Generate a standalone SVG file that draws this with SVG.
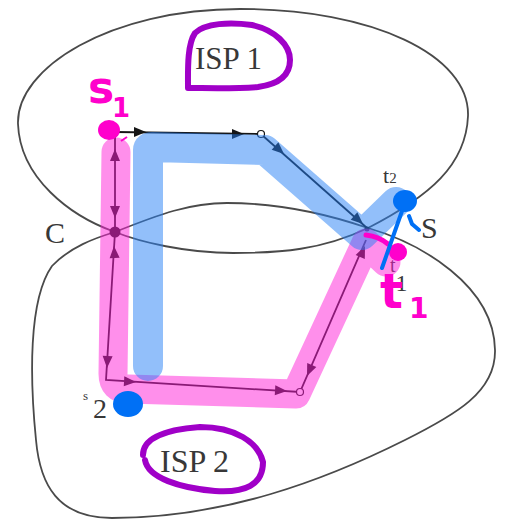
<svg xmlns="http://www.w3.org/2000/svg" width="506" height="522" viewBox="0 0 506 522">
<style>
.isp{fill:none;stroke:#4a4a4a;stroke-width:1.8}
.link{fill:none;stroke:#151515;stroke-width:1.8}
.lbl{font-family:"Liberation Serif","Times New Roman",serif;fill:#383838}
.hand{font-family:"DejaVu Sans",sans-serif;font-weight:bold;fill:#ff00cc}
.hlp{fill:none;stroke:#ff20d8;stroke-opacity:0.5;stroke-linecap:round;stroke-linejoin:round}
.hlb{fill:none;stroke:#2680f5;stroke-opacity:0.5;stroke-linecap:round;stroke-linejoin:round}
.loop{fill:none;stroke:#a000c8;stroke-width:6;stroke-linecap:round;stroke-linejoin:round}
.hollow{fill:#fff;stroke:#151515;stroke-width:1.2}
</style>
<defs>
<path id="ah" d="M0,0 L-12,-5 L-12,5 Z" fill="#151515"/>
</defs>
<rect width="506" height="522" fill="#fff"/>

<g id="isp1">
<path class="isp" d="M115,232 C70,216 20,178 18,124 C16,68 110,9 240,9 C372,9 470,55 468,116 C466,165 430,196 368,228 C322,250 280,253 233,253 C186,253 140,242 115,232 Z"/>
<text class="lbl" x="195" y="69" font-size="31">ISP 1</text>
</g>

<g id="isp2">
<path class="isp" d="M115,232 C160,214 190,203 227,203 C280,203 330,215 368,228 C420,243 494,285 495,350 C496,392 455,415 405,440 C325,480 225,518 112,518 C58,518 40,485 36,440 C30,380 28,300 52,266 C70,247 95,238 115,232 Z"/>
<text class="lbl" x="160" y="472" font-size="32">ISP 2</text>
</g>

<g id="connectors">
<path class="link" d="M115,132 L260,134"/>
<path class="link" d="M262,135 L367,228"/>
<path class="link" d="M115,137 L115,232 L106,380 L300,392 L366,240"/>
<use href="#ah" transform="translate(146,132)"/>
<use href="#ah" transform="translate(244,134)"/>
<use href="#ah" transform="translate(284,154) rotate(41.5)"/>
<use href="#ah" transform="translate(363,224) rotate(41.5)"/>
<use href="#ah" transform="translate(115,149) rotate(-90)"/>
<use href="#ah" transform="translate(115,218) rotate(90)"/>
<use href="#ah" transform="translate(114,246) rotate(-93)"/>
<use href="#ah" transform="translate(107,368) rotate(93)"/>
<use href="#ah" transform="translate(136,382) rotate(3.5)"/>
<use href="#ah" transform="translate(287,391) rotate(3.5)"/>
<use href="#ah" transform="translate(307,376) rotate(113.5)"/>
<use href="#ah" transform="translate(365,246) rotate(-66.5)"/>
</g>

<g id="node-c">
<circle cx="115" cy="232" r="5.5" fill="#151515"/>
<text class="lbl" x="45" y="243" font-size="30">C</text>
</g>
<g id="node-s">
<circle cx="367" cy="229" r="2.5" fill="#151515"/>
<text class="lbl" x="421" y="238" font-size="30">S</text>
</g>
<g id="node-a"><circle class="hollow" cx="261" cy="134" r="3.5"/></g>
<g id="node-b"><circle class="hollow" cx="300" cy="392" r="3.5"/></g>
<g id="node-t2">
<text class="lbl" x="383" y="183" font-size="22">t<tspan font-size="15">2</tspan></text>
</g>
<g id="node-t1">
<text class="lbl" x="390" y="272" font-size="20">t<tspan font-size="24" dy="19">1</tspan></text>
</g>
<g id="node-s2">
<text class="lbl"><tspan x="83" y="400" font-size="13">s</tspan><tspan x="93" y="418" font-size="28">2</tspan></text>
</g>

<g id="highlights">
<path class="hlp" stroke-width="29" d="M116,152 L113,374 Q113,389 128,389 L296,394 L366,243 M366,243 L386,262"/>
<path class="hlb" stroke-width="30" d="M148,366 L148,150 Q148,147 152,147 L265,150 L362,235 L396,202"/>
</g>

<g id="annotations">
<path class="loop" d="M188,88 C188,70 187,45 195,33 C205,23 230,22 252,25 C275,30 290,45 290,60 C290,75 280,84 258,87 C235,89 205,88 188,88"/>
<path class="loop" d="M143,455 C143,440 160,430 200,427 C235,427 258,442 263,462 C263,485 245,493 215,491 C180,488 148,478 145,460"/>
<ellipse cx="109" cy="130" rx="11" ry="10" fill="#ff00cc"/>
<path d="M121,141 L127,137" stroke="#ff00cc" stroke-width="2" fill="none"/>
<text class="hand"><tspan x="88" y="103" font-size="44">s</tspan><tspan x="112" y="117" font-size="26">1</tspan></text>
<path d="M366,235 C375,236 382,239 388,244" stroke="#ff00cc" stroke-width="5" fill="none" stroke-linecap="round"/>
<circle cx="398" cy="252" r="9" fill="#ff00cc"/>
<text class="hand"><tspan x="380" y="308" font-size="48">t</tspan><tspan x="409" y="318" font-size="28">1</tspan></text>
<ellipse cx="128" cy="404" rx="15" ry="13" fill="#0070f5"/>
<ellipse cx="405" cy="201" rx="12" ry="11" fill="#0070f5"/>
<path d="M382,268 L402,211 M409,216 L412,224 L419,230" stroke="#0070f5" stroke-width="4" fill="none" stroke-linecap="round" stroke-linejoin="round"/>
</g>
</svg>
